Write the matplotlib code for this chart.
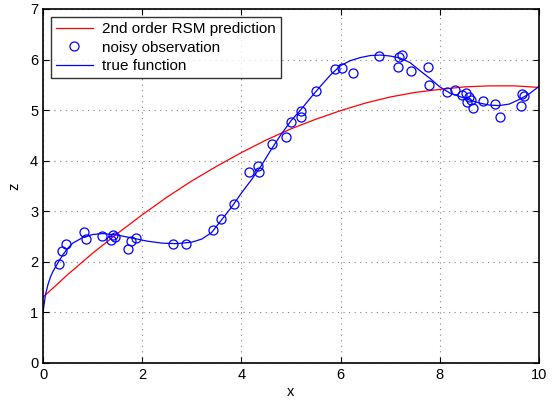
import numpy as np
import matplotlib.pyplot as plt

plt.rcParams['font.family'] = ['Liberation Sans', 'DejaVu Sans']

obs_x = [0.33, 0.38, 0.47, 0.83, 0.86, 1.18, 1.37, 1.42, 1.45, 1.71, 1.77, 1.87,
         2.63, 2.88, 3.43, 3.59, 3.85, 4.15, 4.34, 4.35, 4.61, 4.89, 5.00, 5.20,
         5.20, 5.50, 5.89, 6.02, 6.24, 6.78, 7.15, 7.18, 7.23, 7.42, 7.77, 7.78,
         8.15, 8.30, 8.44, 8.53, 8.55, 8.59, 8.63, 8.66, 8.88, 9.12, 9.21, 9.63,
         9.66, 9.69]
obs_z = [1.96, 2.21, 2.36, 2.60, 2.46, 2.52, 2.44, 2.54, 2.50, 2.26, 2.42, 2.48,
         2.36, 2.36, 2.63, 2.85, 3.15, 3.77, 3.89, 3.77, 4.33, 4.47, 4.76, 4.99,
         4.87, 5.37, 5.82, 5.83, 5.74, 6.08, 5.86, 6.05, 6.10, 5.78, 5.85, 5.49,
         5.36, 5.40, 5.30, 5.33, 5.16, 5.26, 5.20, 5.05, 5.18, 5.12, 4.87, 5.08,
         5.32, 5.28]

# 2nd order RSM prediction
rsm_x = [0, 0.5, 1, 1.5, 2, 2.5, 3, 3.5, 4, 4.5, 5, 5.5, 6, 6.5, 7, 7.5, 8,
         8.5, 9, 9.5, 10]
rsm_z = [1.30, 1.75, 2.17, 2.56, 2.93, 3.28, 3.60, 3.89, 4.16, 4.41, 4.63,
         4.82, 4.99, 5.14, 5.26, 5.35, 5.41, 5.46, 5.48, 5.48, 5.45]

# true function
true_x = [0, 0.05, 0.1, 0.15, 0.2, 0.3, 0.4, 0.5, 0.6, 0.8, 1.0, 1.2, 1.5, 1.8,
          2.1, 2.4, 2.7, 3.0, 3.2, 3.4, 3.6, 3.8, 4.0, 4.2, 4.4, 4.6, 4.8, 5.0,
          5.2, 5.4, 5.6, 5.8, 6.0, 6.2, 6.4, 6.6, 6.8, 7.0, 7.2, 7.4, 7.6, 7.8,
          8.0, 8.2, 8.4, 8.6, 8.8, 9.0, 9.2, 9.4, 9.6, 9.8, 10.0]
true_z = [1.00, 1.35, 1.55, 1.70, 1.81, 1.98, 2.14, 2.27, 2.37, 2.48, 2.54,
          2.56, 2.53, 2.47, 2.41, 2.37, 2.36, 2.39, 2.45, 2.58, 2.83, 3.08,
          3.36, 3.62, 3.90, 4.22, 4.52, 4.79, 5.01, 5.25, 5.48, 5.70, 5.88,
          5.98, 6.04, 6.08, 6.09, 6.07, 6.03, 5.94, 5.78, 5.63, 5.46, 5.34,
          5.27, 5.20, 5.14, 5.10, 5.09, 5.12, 5.21, 5.32, 5.47]

fig = plt.figure(figsize=(5.56, 4.05), dpi=100)
ax = fig.add_axes([43/556, 42/405, 496/556, 354/405])

ax.plot(rsm_x, rsm_z, color='red', linewidth=0.9, label='2nd order RSM prediction')
ax.plot(obs_x, obs_z, 'o', markerfacecolor='none', markeredgecolor='blue',
        markersize=6.5, markeredgewidth=0.9, label='noisy observation')
ax.plot(true_x, true_z, color='blue', linewidth=0.9, label='true function')

ax.set_xlim(0, 10)
ax.set_ylim(0, 7)
ax.set_xticks([0, 2, 4, 6, 8, 10])
ax.set_yticks(range(8))
ax.grid(True, linestyle=(0, (1, 4)), color='0.5', linewidth=0.8)
ax.tick_params(direction='in', top=True, right=True, length=4, labelsize=10.5)
for s in ax.spines.values():
    s.set_linewidth(1.2)
ax.set_xlabel('x', fontsize=10.5, labelpad=2)
ax.set_ylabel('z', fontsize=10.5, labelpad=6)

leg = ax.legend(loc='upper left', fontsize=11, frameon=True, fancybox=False,
                handlelength=2.4, borderpad=0.35, labelspacing=0.3,
                borderaxespad=0.5, handletextpad=0.6)
leg.get_frame().set_edgecolor('black')
leg.get_frame().set_linewidth(1.0)

fig.savefig('out.png', dpi=100)
